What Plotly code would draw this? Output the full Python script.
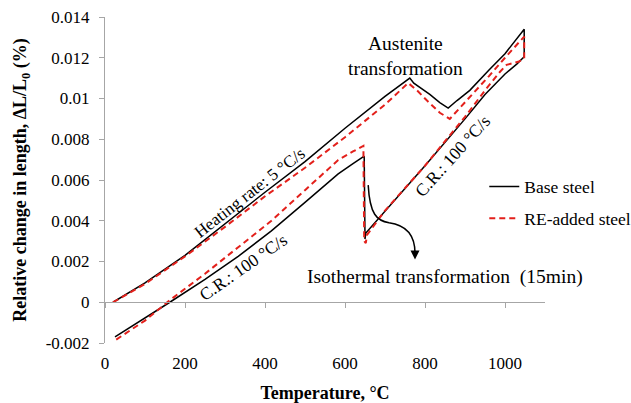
import plotly.graph_objects as go

# ---------------- data ----------------
base_T = [20, 100, 200, 300, 400, 500, 600, 700, 762,
          772, 790, 812, 837, 858,
          880, 912, 960, 1000, 1048,
          1048, 1030, 1000, 950, 900, 800, 700, 652, 650,
          648, 620, 583, 500, 416, 333, 250, 162, 100, 25]
base_dL = [0, 0.00095, 0.0023, 0.00385, 0.0054, 0.0069, 0.00854, 0.0101, 0.0110,
           0.01075, 0.0105, 0.0102, 0.0098, 0.00953,
           0.0099, 0.0104, 0.0114, 0.0122, 0.0134,
           0.01205, 0.0117, 0.0112, 0.0102, 0.0090, 0.0067, 0.0045, 0.0034, 0.0031,
           0.00717, 0.0068, 0.0063, 0.0049, 0.0035, 0.00225, 0.00112, 0.0, -0.00078, -0.0017]

re_T = [20, 100, 200, 300, 400, 500, 600, 700, 758,
        780, 805, 837, 862,
        900, 960, 1000, 1048,
        1048, 1033, 1004, 987, 950, 900, 800, 700, 655, 652, 648,
        646, 620, 583, 500, 416, 333, 250, 162, 100, 25]
re_dL = [0, 0.0009, 0.00225, 0.0037, 0.0052, 0.0066, 0.0081, 0.0097, 0.01076,
         0.0104, 0.0099, 0.0093, 0.0090,
         0.0098, 0.0111, 0.0120, 0.01304,
         0.01197, 0.0118, 0.01165, 0.0113, 0.0104, 0.0091, 0.0067, 0.0045, 0.0033, 0.0029, 0.0030,
         0.00767, 0.0074, 0.00698, 0.0055, 0.0040, 0.0027, 0.0014, 0.0001, -0.0009, -0.00187]

series_names = ["Base steel", "RE-added steel"]

y_ticks = [-0.002, 0, 0.002, 0.004, 0.006, 0.008, 0.01, 0.012, 0.014]
y_ticktext = ["-0.002", "0", "0.002", "0.004", "0.006", "0.008", "0.01", "0.012", "0.014"]
x_ticks = [0, 200, 400, 600, 800, 1000]

# curved arrow (annotation) in data units
arrow_start = (658, 0.00575)
arrow_c1 = (662, 0.0043)
arrow_c2 = (680, 0.0040)
arrow_mid = (710, 0.0039)
arrow_c3 = (748, 0.0038)
arrow_c4 = (775, 0.0034)
arrow_end = (775, 0.0024)
arrow_tip = (775, 0.0021)

FONT = "Liberation Serif, Times New Roman, serif"
AXIS_GREY = "#a6a6a6"
RED = "#e3201b"

fig = go.Figure()
fig.add_trace(go.Scatter(x=base_T, y=base_dL, mode="lines", name=series_names[0],
                         line=dict(color="black", width=1.5), legendgroup="a"))
fig.add_trace(go.Scatter(x=re_T, y=re_dL, mode="lines", name=series_names[1],
                         line=dict(color=RED, width=2, dash="6px,4px"), legendgroup="b"))
# helper trace so the zero-crossing axis gets drawn
fig.add_trace(go.Scatter(x=[None], y=[None], xaxis="x2", showlegend=False, hoverinfo="skip"))

def pt(p):
    return f"{p[0]},{p[1]}"

path = (f"M{pt(arrow_start)} C{pt(arrow_c1)} {pt(arrow_c2)} {pt(arrow_mid)} "
        f"C{pt(arrow_c3)} {pt(arrow_c4)} {pt(arrow_end)}")
fig.add_shape(type="path", path=path, xref="x", yref="y", line=dict(color="black", width=1.5))

annos = [
    dict(x=750, y=0.0121, text="Austenite<br>transformation", showarrow=False,
         font=dict(size=19.5)),
    dict(x=850, y=0.00123, text="Isothermal transformation\u00a0 (15min)", showarrow=False,
         font=dict(size=19.5)),
    dict(x=362, y=0.0054, text="Heating rate: 5 °C/s", showarrow=False, textangle=-38,
         font=dict(size=17)),
    dict(x=346, y=0.00173, text="C.R.: 100 °C/s", showarrow=False, textangle=-35,
         font=dict(size=17.5)),
    dict(x=868, y=0.0072, text="C.R.: 100 °C/s", showarrow=False, textangle=-48,
         font=dict(size=17.5)),
    dict(x=arrow_tip[0], y=arrow_tip[1], ax=arrow_end[0], ay=arrow_end[1] + 0.0002,
         axref="x", ayref="y", xref="x", yref="y", text="", showarrow=True,
         arrowhead=2, arrowsize=1.2, arrowwidth=1.5, arrowcolor="black"),
]
for a in annos:
    a.setdefault("xref", "x")
    a.setdefault("yref", "y")
    fig.add_annotation(**a)

fig.update_layout(
    width=631, height=403,
    margin=dict(l=105, r=86, t=17, b=60, autoexpand=False),
    paper_bgcolor="white", plot_bgcolor="white",
    font=dict(family=FONT, size=17, color="black"),
    showlegend=True,
    legend=dict(x=0.862, y=0.535, xanchor="left", yanchor="top",
                font=dict(size=17.5), itemwidth=30, tracegroupgap=6,
                bgcolor="rgba(0,0,0,0)", traceorder="grouped"),
    xaxis=dict(range=[0, 1100], tickvals=x_ticks, showgrid=False, zeroline=False,
               showline=False, ticks="", ticklabelstandoff=8,
               title=dict(text="<b>Temperature, °C</b>", font=dict(size=18), standoff=14)),
    xaxis2=dict(range=[0, 1100], overlaying="x", anchor="free", position=0.125,
                side="bottom", tickvals=x_ticks, showticklabels=False, ticks="outside",
                ticklen=5, tickcolor=AXIS_GREY, showline=True, linecolor=AXIS_GREY,
                linewidth=1, showgrid=False, zeroline=False),
    yaxis=dict(range=[-0.002, 0.014], tickvals=y_ticks, ticktext=y_ticktext,
               showgrid=False, zeroline=False, showline=True, linecolor=AXIS_GREY,
               ticks="outside", ticklen=5, tickcolor=AXIS_GREY, ticklabelstandoff=6,
               title=dict(text="<b>Relative change in length, ΔL/L<sub>0</sub> (%)</b>",
                          font=dict(size=18), standoff=14)),
)

fig.write_html("out.html", config={"displayModeBar": False},
               post_script="document.body.style.margin='0px';")
